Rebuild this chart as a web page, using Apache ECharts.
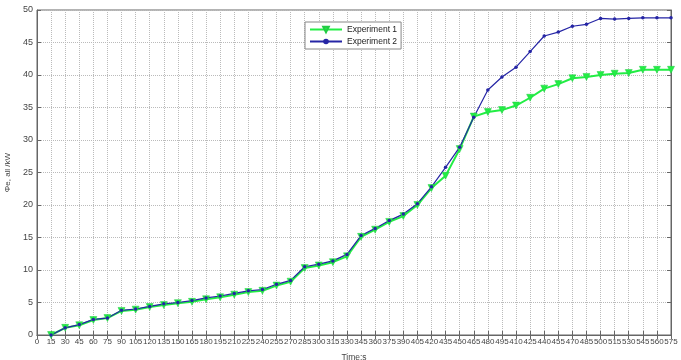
<!DOCTYPE html>
<html>
<head>
<meta charset="utf-8">
<script src="https://cdn.jsdelivr.net/npm/echarts@6/dist/echarts.min.js"></script>
<style>html,body{margin:0;padding:0;background:#fff}#c{width:681px;height:360px}</style>
</head>
<body>
<div id="c"></div>
<script>
var timeLabels = ['0','15','30','45','60','75','90','105','120','135','150','165','180','195','210','225','240','255','270','285','300','315','330','345','360','375','390','405','420','435','450','465','480','495','410','425','440','455','470','485','500','515','530','545','560','575'];
// values start at the "15" tick
var experiment1 = [0,1.1,1.5,2.3,2.6,3.7,3.9,4.3,4.6,4.9,5.1,5.5,5.8,6.2,6.6,6.8,7.6,8.2,10.3,10.7,11.2,12.1,15.1,16.2,17.4,18.3,20.0,22.6,24.5,28.6,33.6,34.3,34.6,35.3,36.5,37.9,38.6,39.5,39.7,40.0,40.2,40.3,40.8,40.8,40.8];
var experiment2 = [0,1.1,1.6,2.4,2.6,3.8,4.0,4.4,4.8,5.0,5.3,5.7,6.0,6.4,6.8,7.0,7.8,8.4,10.5,10.9,11.4,12.4,15.3,16.4,17.6,18.6,20.2,22.8,25.8,28.9,33.5,37.7,39.7,41.2,43.6,46.0,46.6,47.5,47.8,48.7,48.6,48.7,48.8,48.8,48.8];

var chart = echarts.init(document.getElementById('c'), null, {renderer:'canvas'});
var txt = '#444';
var font = 'Liberation Sans, Arial, sans-serif';
chart.setOption({
  animation: false,
  backgroundColor: '#fff',
  textStyle: {fontFamily: font},
  grid: {left: 37, right: 10, top: 10, bottom: 25, show: true, borderColor: '#666', borderWidth: 1, backgroundColor: 'transparent', outerBoundsMode: 'none', containLabel: false},
  legend: {
    left: 305, top: 22, orient: 'vertical', itemGap: 3, itemWidth: 32, itemHeight: 7,
    backgroundColor: '#fff', borderColor: '#888', borderWidth: 1, padding: [3, 4, 3, 4],
    textStyle: {fontSize: 8.5, color: '#222', fontFamily: font},
    data: [{name: 'Experiment 1'}, {name: 'Experiment 2'}]
  },
  xAxis: [{
    type: 'category', data: timeLabels, boundaryGap: false,
    name: 'Time:s', nameLocation: 'middle', nameGap: 18,
    nameTextStyle: {fontSize: 8.5, color: txt, fontFamily: font},
    axisLine: {show: true, lineStyle: {color: '#666'}},
    axisTick: {show: true, inside: true, length: 4, interval: 0, lineStyle: {color: '#666'}},
    axisLabel: {interval: 0, fontSize: 8, color: txt, margin: 3, fontFamily: font},
    splitLine: {show: true, interval: 0, lineStyle: {type: 'dotted', color: '#bbb'}}
  }, {
    type: 'category', data: timeLabels, boundaryGap: false, position: 'top',
    axisLine: {show: true, lineStyle: {color: '#666'}},
    axisTick: {show: true, inside: true, length: 4, interval: 0, lineStyle: {color: '#666'}},
    axisLabel: {show: false}, splitLine: {show: false}
  }],
  yAxis: [{
    type: 'value', min: 0, max: 50, interval: 5,
    name: 'Φe, all /kW', nameLocation: 'middle', nameGap: 24, nameRotate: 90,
    nameTextStyle: {fontSize: 8, color: txt, fontFamily: font},
    axisLine: {show: true, lineStyle: {color: '#666'}},
    axisTick: {show: true, inside: true, length: 4, lineStyle: {color: '#666'}},
    axisLabel: {fontSize: 9, color: txt, margin: 4, fontFamily: font},
    splitLine: {show: true, lineStyle: {type: 'dotted', color: '#bbb'}}
  }, {
    type: 'value', min: 0, max: 50, interval: 5, position: 'right',
    axisLine: {show: true, lineStyle: {color: '#666'}},
    axisTick: {show: true, inside: true, length: 4, lineStyle: {color: '#666'}},
    axisLabel: {show: false}, splitLine: {show: false}
  }],
  series: [{
    name: 'Experiment 1', type: 'line', data: [null].concat(experiment1),
    symbol: 'triangle', symbolRotate: 180, symbolSize: 7,
    lineStyle: {color: '#22ee44', width: 2},
    itemStyle: {color: '#22ee44', borderColor: '#22cc44', borderWidth: 0.5},
    color: '#22ee44'
  }, {
    name: 'Experiment 2', type: 'line', data: [null].concat(experiment2),
    symbol: 'circle', symbolSize: 3.5,
    lineStyle: {color: '#2525a5', width: 1.2},
    itemStyle: {color: '#2525a5'},
    color: '#2525a5'
  }]
});
</script>
</body>
</html>
